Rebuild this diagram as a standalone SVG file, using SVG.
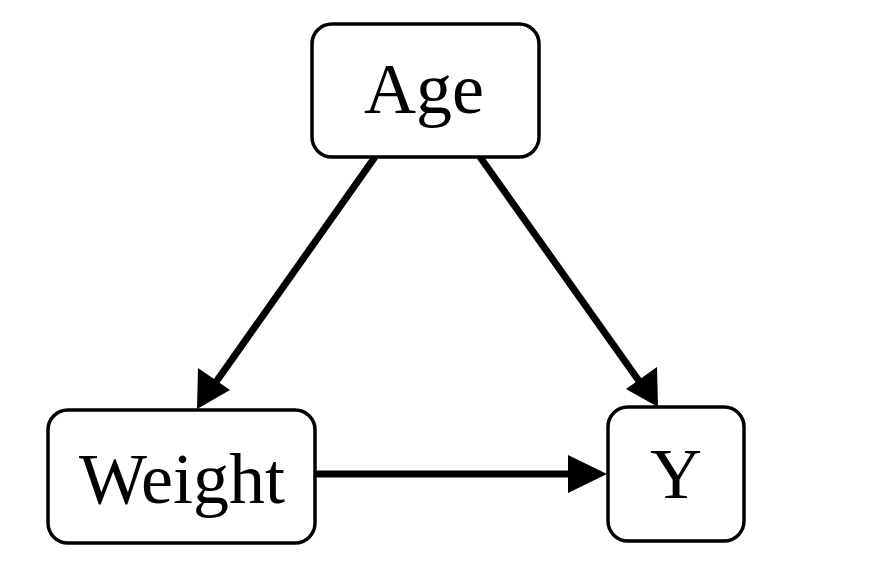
<svg xmlns="http://www.w3.org/2000/svg" width="874" height="567" viewBox="0 0 874 567">
<style>
.box{fill:#fff;stroke:#000;stroke-width:3.5}
.lbl{font-family:'Liberation Serif',serif;font-size:72px;fill:#000;text-anchor:middle}
.edge{stroke:#000;stroke-width:7;fill:none}
.head{fill:#000}
</style>
<rect width="874" height="567" fill="#fff"/>
<g id="connectors">
<line class="edge" x1="375" y1="157" x2="216" y2="382"/>
<polygon class="head" points="197,409 198,368 230,390"/>
<line class="edge" x1="480" y1="157" x2="639" y2="381"/>
<polygon class="head" points="658,407 626,389 657,367"/>
<line class="edge" x1="316" y1="474" x2="572" y2="474"/>
<polygon class="head" points="607,474 568,455 568,493"/>
</g>
<g id="age">
<rect class="box" x="312" y="24" width="227" height="133" rx="20"/>
<text class="lbl" x="424" y="113" font-family="Liberation Serif">Age</text>
</g>
<g id="weight">
<rect class="box" x="48" y="410" width="267" height="133" rx="20"/>
<text class="lbl" x="182" y="503" font-family="Liberation Serif">Weight</text>
</g>
<g id="y">
<rect class="box" x="608" y="407" width="136" height="134" rx="20"/>
<text class="lbl" x="676" y="498" font-family="Liberation Serif">Y</text>
</g>
</svg>
